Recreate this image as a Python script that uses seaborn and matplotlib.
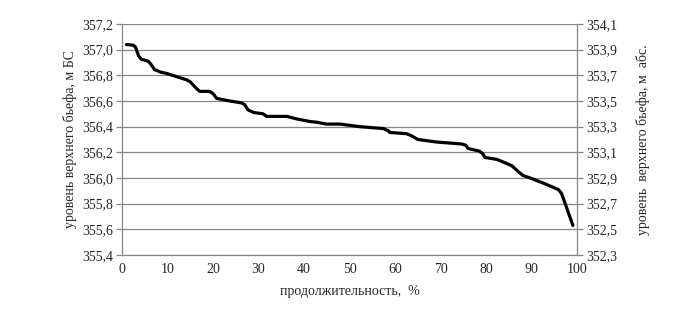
import matplotlib
matplotlib.use("Agg")
import matplotlib.pyplot as plt
import seaborn as sns
import pandas as pd
from matplotlib.ticker import FuncFormatter, MultipleLocator, FixedLocator

# Data
duration_pct = [1, 2.5, 3, 3.7, 4.3, 5.8, 6.3, 7.2, 8.5, 9.8, 12, 14.2, 15, 16.3, 17.1,
                19.3, 20.1, 20.8, 23.7, 26.3, 27, 27.7, 29, 31, 31.8, 36.2, 38.4, 41.3,
                42.7, 44.9, 47.9, 52.2, 57.4, 58.4, 58.8, 62.5, 63.5, 65, 69.1, 74.6,
                75.5, 76, 78.4, 79.2, 79.7, 82.3, 84, 85.6, 87, 88, 89.6, 92.5, 95.8,
                96.5, 97, 99]
level_bs = [357.04, 357.035, 357.02, 356.95, 356.925, 356.91, 356.89, 356.845, 356.825,
            356.815, 356.79, 356.765, 356.75, 356.70, 356.675, 356.675, 356.655, 356.62,
            356.60, 356.585, 356.57, 356.53, 356.51, 356.50, 356.48, 356.48, 356.46,
            356.44, 356.435, 356.42, 356.42, 356.40, 356.385, 356.37, 356.355, 356.345,
            356.33, 356.30, 356.28, 356.265, 356.255, 356.23, 356.21, 356.19, 356.16,
            356.145, 356.12, 356.095, 356.05, 356.02, 356.0, 355.96, 355.91, 355.88,
            355.83, 355.63]
left_ticks = [355.4, 355.6, 355.8, 356.0, 356.2, 356.4, 356.6, 356.8, 357.0, 357.2]
right_ticks = [352.3, 352.5, 352.7, 352.9, 353.1, 353.3, 353.5, 353.7, 353.9, 354.1]
x_ticks = [0, 10, 20, 30, 40, 50, 60, 70, 80, 90, 100]
x_label = "продолжительность,  %"
left_label = "уровень верхнего бьефа, м БС"
right_label = "уровень  верхнего бьефа, м  абс."

sns.set_style("white")
plt.rcParams['font.family'] = ['Liberation Serif', 'DejaVu Serif']

df = pd.DataFrame({"x": duration_pct, "y": level_bs})

fig = plt.figure(figsize=(6.92, 3.24), dpi=100)
ax = fig.add_axes([0.176, 0.213, 0.6585, 0.713])
sns.lineplot(data=df, x="x", y="y", ax=ax, color="black", linewidth=2.3,
             solid_joinstyle="round", solid_capstyle="round")

grey = "#868686"
ax.set_xlim(x_ticks[0], x_ticks[-1])
ax.set_ylim(left_ticks[0], left_ticks[-1])
ax.xaxis.set_major_locator(FixedLocator(x_ticks))
ax.yaxis.set_major_locator(FixedLocator(left_ticks))
comma = FuncFormatter(lambda v, p: f"{v:.1f}".replace(".", ","))
ax.yaxis.set_major_formatter(comma)
ax.grid(axis="y", color=grey, linewidth=0.9)
ax.set_axisbelow(True)
for s in ["top", "right"]:
    ax.spines[s].set_visible(False)
for s in ["left", "bottom"]:
    ax.spines[s].set_color(grey)
    ax.spines[s].set_linewidth(0.9)
ax.tick_params(axis="y", direction="out", length=4, color=grey, width=0.9,
               labelsize=10, pad=2, left=True)
ax.tick_params(axis="x", length=0, labelsize=10, pad=6)
ax.set_xlabel(x_label, fontsize=10, labelpad=6)
ax.set_ylabel(left_label, fontsize=10, labelpad=4)

ax2 = ax.twinx()
ax2.set_ylim(right_ticks[0], right_ticks[-1])
ax2.yaxis.set_major_locator(FixedLocator(right_ticks))
ax2.yaxis.set_major_formatter(comma)
for s in ["top", "left", "bottom"]:
    ax2.spines[s].set_visible(False)
ax2.spines["right"].set_color(grey)
ax2.spines["right"].set_linewidth(0.9)
ax2.tick_params(axis="y", direction="out", length=4, color=grey, width=0.9,
                labelsize=10, pad=2, right=True)
ax2.set_ylabel(right_label, fontsize=10, labelpad=14)
ax2.grid(False)

fig.savefig("out.png", dpi=100, facecolor="white")
